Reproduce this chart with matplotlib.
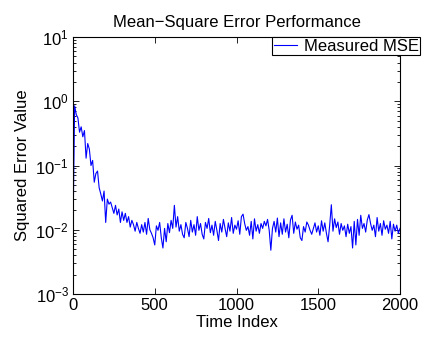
import numpy as np
import matplotlib
matplotlib.use("Agg")
import matplotlib.pyplot as plt

plt.rcParams["font.family"] = ["Liberation Sans", "DejaVu Sans"]
plt.rcParams["mathtext.fontset"] = "custom"
plt.rcParams["mathtext.rm"] = "Liberation Sans"
plt.rcParams["mathtext.it"] = "Liberation Sans"
plt.rcParams["mathtext.default"] = "regular"

# measured MSE, one value every 10 time steps
STEP = 10
mse = [
    0.0095, 0.85, 0.62, 0.55, 0.33, 0.40, 0.28, 0.35, 0.13, 0.22,
    0.18, 0.10, 0.12, 0.055, 0.075, 0.082, 0.045, 0.036, 0.028, 0.040,
    0.013, 0.030, 0.025, 0.027, 0.022, 0.018, 0.024, 0.017, 0.021, 0.013,
    0.019, 0.014, 0.018, 0.013, 0.016, 0.011, 0.014, 0.012, 0.0095, 0.013,
    0.0105, 0.0088, 0.012, 0.0092, 0.013, 0.0085, 0.015, 0.010, 0.0088, 0.0075,
    0.0058, 0.0115, 0.0098, 0.013, 0.0075, 0.0052, 0.0105, 0.0065, 0.0125, 0.009,
    0.014, 0.0105, 0.024, 0.011, 0.016, 0.0095, 0.012, 0.0085, 0.0075, 0.013,
    0.0105, 0.0078, 0.014, 0.0092, 0.012, 0.0082, 0.016, 0.0098, 0.0125, 0.0085,
    0.0072, 0.013, 0.0105, 0.015, 0.009, 0.0118, 0.0082, 0.0135, 0.0098, 0.0068,
    0.0125, 0.0092, 0.0145, 0.0105, 0.0078, 0.0128, 0.0095, 0.0155, 0.0088, 0.0118,
    0.0102, 0.0138, 0.0085, 0.016, 0.0175, 0.0125, 0.0098, 0.0112, 0.0082, 0.0135,
    0.0072, 0.0148, 0.0095, 0.012, 0.0088, 0.0125, 0.0105, 0.0135, 0.0115, 0.0145,
    0.0098, 0.0048, 0.0105, 0.0135, 0.0092, 0.0152, 0.0078, 0.0128, 0.0085, 0.0148,
    0.0092, 0.0122, 0.0075, 0.0142, 0.0168, 0.0088, 0.0132, 0.0102, 0.0118, 0.0075,
    0.0068, 0.0112, 0.0092, 0.0132, 0.0118, 0.0098, 0.0085, 0.0105, 0.0128, 0.0092,
    0.0115, 0.0082, 0.0138, 0.0095, 0.0128, 0.0088, 0.0065, 0.0118, 0.0245, 0.0095,
    0.0148, 0.0108, 0.0132, 0.0085, 0.0125, 0.0098, 0.0115, 0.0078, 0.0122, 0.0088,
    0.0112, 0.0052, 0.0135, 0.0058, 0.0145, 0.0082, 0.0168, 0.0105, 0.0125, 0.0092,
    0.0142, 0.0172, 0.0125, 0.0098, 0.0118, 0.0078, 0.0155, 0.0095, 0.0125, 0.0082,
    0.0138, 0.0102, 0.0118, 0.0088, 0.0135, 0.0072, 0.0122, 0.0095, 0.0118, 0.0088,
    0.0105,
]
time_index = np.arange(len(mse)) * STEP

x_ticks = [0, 500, 1000, 1500, 2000]

fig = plt.figure(figsize=(4.32, 3.43), dpi=100)
ax = fig.add_axes([73 / 432, 49 / 343, 327 / 432, 257 / 343])

ax.semilogy(time_index, mse, color="#0000ff", lw=0.8, label="Measured MSE")
ax.set_xlim(0, 2000)
ax.set_ylim(1e-3, 1e1)
ax.set_xticks(x_ticks)

ax.tick_params(which="both", direction="in", top=True, right=True,
               labelsize=12, width=0.6, pad=3)
ax.tick_params(which="major", length=4)
ax.tick_params(which="minor", length=2)
for s in ax.spines.values():
    s.set_linewidth(0.8)

ax.set_title("Mean\u2212Square Error Performance", fontsize=12, pad=7)
ax.set_xlabel("Time Index", fontsize=12, labelpad=1)
ax.set_ylabel("Squared Error Value", fontsize=12, labelpad=4)

leg = ax.legend(loc="upper left", bbox_to_anchor=(272 / 432, 306 / 343),
                bbox_transform=fig.transFigure, fontsize=12,
                fancybox=False, framealpha=1, edgecolor="black",
                borderpad=0.1, handlelength=1.4, handletextpad=0.4,
                borderaxespad=0)
leg.get_frame().set_linewidth(0.8)

fig.savefig("out.png", dpi=100)
